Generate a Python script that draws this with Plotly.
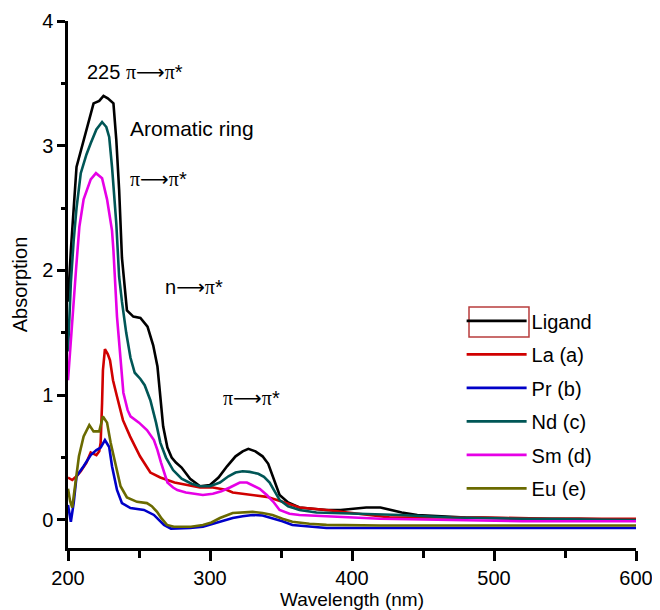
import plotly.graph_objects as go

# ---------------- data ----------------
ligand_x = [200, 202, 206, 210, 213, 218, 222, 225, 228, 232, 234, 236, 238, 241.5, 246, 251, 256, 260, 263,
            265, 267, 270, 273, 276, 280, 286, 293, 300, 306, 312, 318, 323, 327, 332, 337, 341, 345, 349,
            355, 363, 372, 382, 392, 402, 410, 420, 428, 435, 446, 460, 480, 520, 560, 600]
ligand_y = [1.75, 2.16, 2.83, 3.0, 3.15, 3.34, 3.36, 3.40, 3.38, 3.34, 3.05, 2.65, 2.1, 1.68, 1.63, 1.62, 1.55,
            1.40, 1.23, 1.0, 0.75, 0.58, 0.50, 0.46, 0.42, 0.33, 0.27, 0.28, 0.34, 0.43, 0.51, 0.55, 0.57,
            0.55, 0.51, 0.45, 0.33, 0.20, 0.14, 0.10, 0.09, 0.08, 0.08, 0.09, 0.10, 0.10, 0.08, 0.06, 0.04,
            0.03, 0.02, 0.01, 0.01, 0.0]

la_x = [200, 203, 206, 209, 213, 216, 218, 220, 222, 223, 224, 224.6, 226, 228, 229.6, 231.7, 234.5, 238.7,
        243.7, 250.7, 258, 265, 275, 284, 293, 302, 312, 316, 323, 330, 340, 351, 363, 382, 394, 410, 427,
        460, 493, 540, 600]
la_y = [0.34, 0.32, 0.35, 0.39, 0.46, 0.54, 0.53, 0.52, 0.55, 0.62, 0.94, 1.2, 1.37, 1.33, 1.28, 1.12, 0.99,
        0.80, 0.67, 0.51, 0.38, 0.34, 0.30, 0.28, 0.26, 0.26, 0.24, 0.22, 0.21, 0.20, 0.185, 0.145, 0.10,
        0.08, 0.065, 0.04, 0.02, 0.02, 0.02, 0.01, 0.01]

pr_x = [200, 201, 202, 204, 206, 211, 216, 220, 223, 226, 229, 231, 234.5, 238, 244, 253.5, 260.5, 264,
        267.6, 272.5, 286, 295, 307, 316, 323, 330, 337, 344, 351, 358, 370, 382, 450, 600]
pr_y = [0.12, 0.055, -0.015, 0.135, 0.35, 0.43, 0.52, 0.56, 0.58, 0.64, 0.585, 0.43, 0.24, 0.135, 0.095,
        0.08, 0.04, 0.0, -0.04, -0.07, -0.065, -0.055, -0.015, 0.015, 0.03, 0.04, 0.035, 0.015, -0.01,
        -0.04, -0.055, -0.065, -0.065, -0.065]

nd_x = [200, 202, 204, 206, 209, 213, 216, 220, 224, 227, 229, 231, 234, 236, 238, 241, 244, 247, 251, 254,
        258, 262, 265, 269, 274, 280, 287, 293, 300, 307, 313, 318, 323, 328, 334, 338, 342, 346, 349, 355,
        363, 375, 391, 410, 434, 470, 520, 600]
nd_y = [1.35, 1.9, 2.24, 2.5, 2.78, 2.93, 3.02, 3.13, 3.19, 3.15, 3.07, 2.83, 2.38, 1.95, 1.75, 1.50, 1.30,
        1.18, 1.13, 1.08, 0.96, 0.78, 0.62, 0.50, 0.40, 0.33, 0.29, 0.27, 0.27, 0.30, 0.35, 0.38, 0.39,
        0.385, 0.37, 0.345, 0.30, 0.22, 0.16, 0.11, 0.08, 0.06, 0.055, 0.045, 0.04, 0.02, 0.01, 0.0]

sm_x = [200, 203, 205.6, 208, 211, 216, 219.7, 224, 227.5, 231, 232, 234.5, 237, 239, 242, 244, 250, 255.6,
        260.5, 263, 265.5, 268, 270, 274, 277, 283, 289, 295, 302, 308, 314, 321, 326, 330, 335, 340, 345,
        349, 356, 363, 380, 420, 470, 520, 600]
sm_y = [1.12, 1.63, 2.0, 2.35, 2.57, 2.73, 2.78, 2.74, 2.57, 2.32, 2.16, 1.63, 1.30, 1.02, 0.88, 0.83, 0.78,
        0.72, 0.64, 0.56, 0.46, 0.37, 0.30, 0.26, 0.24, 0.22, 0.21, 0.20, 0.21, 0.23, 0.26, 0.30, 0.30,
        0.28, 0.25, 0.20, 0.14, 0.08, 0.05, 0.04, 0.03, 0.01, 0.0, -0.01, -0.01]

eu_x = [200, 201.5, 203, 205.6, 207.7, 211, 215, 218, 222, 224.6, 227.5, 230, 234, 237, 241.5, 248.6, 255.6,
        259, 262.7, 266, 269.7, 274.6, 286.6, 295, 301, 307, 316, 323, 330, 337, 344, 351, 358, 370, 382,
        420, 500, 600]
eu_y = [0.25, 0.15, 0.10, 0.35, 0.51, 0.67, 0.76, 0.71, 0.71, 0.83, 0.78, 0.62, 0.43, 0.27, 0.18, 0.145,
        0.135, 0.11, 0.065, 0.01, -0.04, -0.055, -0.055, -0.04, -0.02, 0.015, 0.055, 0.06, 0.065, 0.055,
        0.04, 0.01, -0.015, -0.03, -0.04, -0.045, -0.045, -0.045]

series_names = ["Ligand", "La (a)", "Pr (b)", "Nd (c)", "Sm (d)", "Eu (e)"]
series_x = [ligand_x, la_x, pr_x, nd_x, sm_x, eu_x]
series_y = [ligand_y, la_y, pr_y, nd_y, sm_y, eu_y]
series_colors = ["#000000", "#d00000", "#0000c8", "#005656", "#e600e6", "#6a6a00"]

PI = '<span style="font-family:Liberation Serif">π</span>'
ARR = '<span style="font-family:DejaVu Sans">⟶</span>'
ann_text = [f"225 {PI}{ARR}{PI}*", "Aromatic ring", f"{PI}{ARR}{PI}*", f"n{ARR}{PI}*", f"{PI}{ARR}{PI}*"]
ann_x = [247, 287, 264, 289, 329]
ann_y = [3.59, 3.14, 2.73, 1.87, 0.98]

FONT = "Liberation Sans, Arial, Helvetica, sans-serif"
FS = 20

fig = go.Figure()
for i, (n, xs, ys, c) in enumerate(zip(series_names, series_x, series_y, series_colors)):
    fig.add_trace(go.Scatter(x=xs, y=ys, mode="lines", name=n, legendgroup=f"g{i}",
                             line=dict(color=c, width=2.6)))

for t, ax_, ay_ in zip(ann_text, ann_x, ann_y):
    fig.add_annotation(x=ax_, y=ay_, text=t, showarrow=False, xref="x", yref="y",
                       font=dict(size=21 if t == "Aromatic ring" else FS, color="black", family=FONT))

# x-axis title, placed just under the tick labels
fig.add_annotation(x=0.5, y=-0.098, xref="paper", yref="paper", text="Wavelength (nm)",
                   showarrow=False, yanchor="middle", font=dict(size=19, color="black", family=FONT))

# red box around the Ligand legend sample (as in the original)
fig.add_shape(type="rect", xref="paper", yref="paper", x0=0.706, x1=0.8116, y0=0.4004, y1=0.4573,
              line=dict(color="#b83c3c", width=1.5))

fig.update_layout(
    width=660, height=610,
    margin=dict(l=60, r=32, t=13, b=70),
    paper_bgcolor="white", plot_bgcolor="white",
    font=dict(family=FONT, size=FS, color="black"),
    showlegend=True,
    legend=dict(x=0.693, y=0.468, xanchor="left", yanchor="top", bgcolor="rgba(0,0,0,0)",
                font=dict(size=FS), itemwidth=60, tracegroupgap=4.5),
    xaxis=dict(range=[200, 600], tickvals=[200, 300, 400, 500, 600], showgrid=False, zeroline=False,
               showline=True, linecolor="black", linewidth=2.5, ticks="outside", ticklen=10,
               tickwidth=2.5, tickcolor="black", automargin=False,
               minor=dict(tickvals=[250, 350, 450, 550], ticks="outside", ticklen=7, tickwidth=2.5,
                          tickcolor="black", showgrid=False),
               tickfont=dict(size=FS)),
    yaxis=dict(range=[-0.225, 4.0], tickvals=[0, 1, 2, 3, 4], showgrid=False, zeroline=False,
               showline=True, linecolor="black", linewidth=2.5, ticks="outside", ticklen=8,
               tickwidth=2.5, tickcolor="black", automargin=False,
               minor=dict(tickvals=[0.5, 1.5, 2.5, 3.5], ticks="outside", ticklen=4, tickwidth=2.5,
                          tickcolor="black", showgrid=False),
               title=dict(text="Absorption", font=dict(size=FS), standoff=10),
               tickfont=dict(size=FS)),
)

fig.write_html("out.html")
